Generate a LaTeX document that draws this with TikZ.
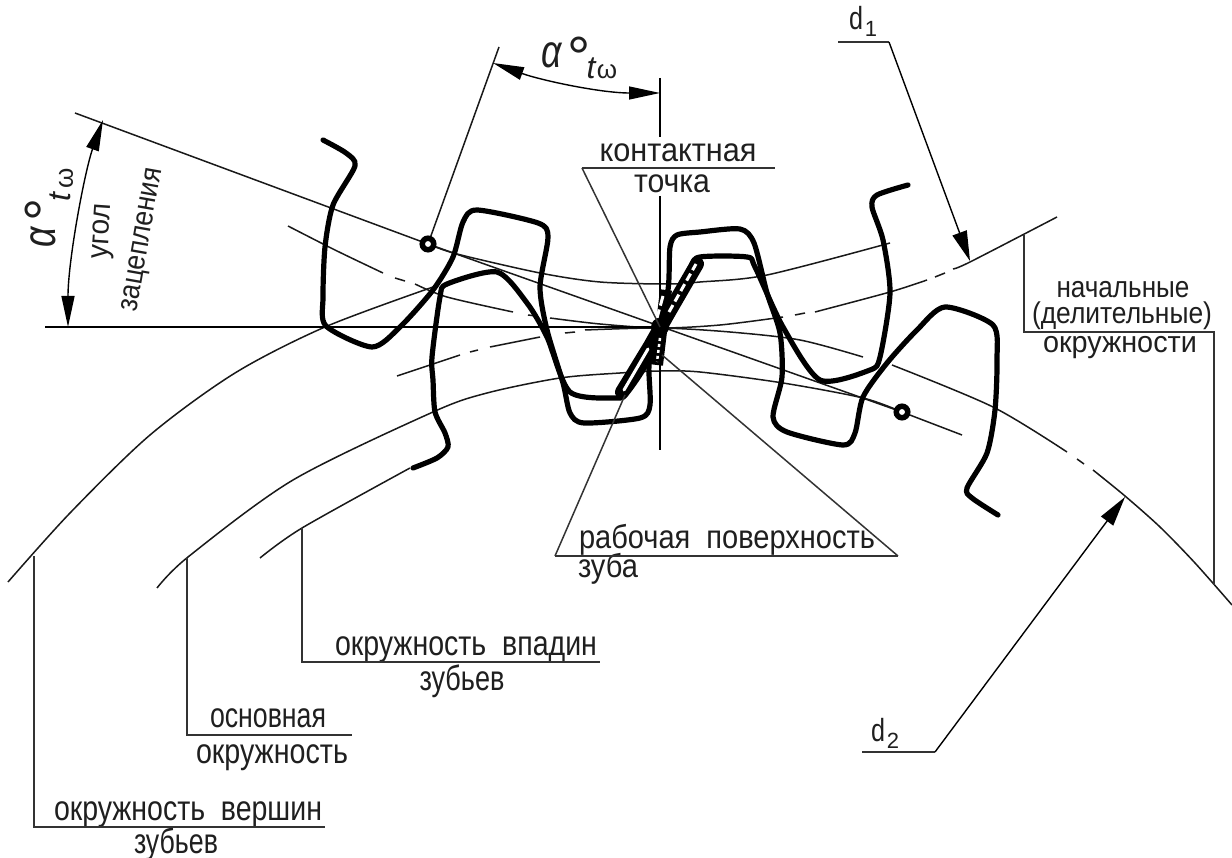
\documentclass[tikz,border=0pt]{standalone}
\usepackage{fontspec}
\usepackage{graphicx}
\usetikzlibrary{arrows.meta}
\setmainfont{Liberation Sans}
\newsavebox\fitbox
\newcommand\fitw[2]{\sbox\fitbox{#2}\pgfmathsetmacro\fitr{#1/\wd\fitbox}\scalebox{\fitr}[1]{\usebox\fitbox}}
\newcommand\lab[6][]{\node[gostlab,#1] (#2) at (#3,#4) {\fitw{#5}{#6}};}
\tikzset{
  gostlab/.style={anchor=base,inner sep=0pt,outer sep=0pt,font=\fontsize{33}{33}\selectfont,text=black!88},
  smalllab/.style={font=\fontsize{30}{30}\selectfont},
  biglab/.style={font=\fontsize{35}{35}\selectfont},
  thinline/.style={line width=1.5pt,draw=black!90},
  leader/.style={line width=1.5pt,draw=black!80,line join=miter},
  toothline/.style={line width=5.2pt,draw=black,line join=round,line cap=round},
  dimarrow/.style={line width=1.4pt,{Stealth[inset=0pt,length=31pt,width=13pt]}-{Stealth[inset=0pt,length=31pt,width=13pt]}},
  headarrow/.style={line width=1.4pt,-{Stealth[inset=0pt,length=30pt,width=15pt]}},
  basemark/.style={circle,draw=black,fill=white,line width=5.5pt,minimum size=11.5pt,inner sep=0pt},
  symb/.style={inner sep=0pt,outer sep=0pt,text=black!88}
}
\begin{document}
\begin{tikzpicture}[x=1pt,y=-1pt]
\useasboundingbox (0,0) rectangle (1232,858);
\fill[white] (0,0) rectangle (1232,858);

% named points
\coordinate (pitch) at (660,327);
\coordinate (axisL) at (45,327);
\coordinate (axisT) at (660,78);
\coordinate (axisT2) at (660,137);
\coordinate (axisT3) at (660,196);
\coordinate (axisB) at (660,450);
\coordinate (loaS) at (75,113);
\coordinate (loaE) at (962,435);
\coordinate (tA) at (428,244);
\coordinate (tB) at (902,412);
\coordinate (ldA) at (34,556);
\coordinate (ldB) at (187,558);
\coordinate (ldC) at (302,528);
\coordinate (ldD) at (1024,235);
\coordinate (ldE) at (1214,585);
\coordinate (flankL) at (625,395);
\coordinate (flankR) at (662,355);
\coordinate (d1tip) at (970,261);
\coordinate (d2tip) at (1125,497);
\coordinate (angTop) at (499,47);

% gear circles
\draw[thinline] plot[smooth] coordinates {(8,582)(70,513)(150,435)(235,373)(325,327)(433,287)};
\draw[thinline] plot[smooth] coordinates {(157,588)(188,557)(293,480)(433,412)(487,393)(560,378)(620,373)(660,371)(700,372)(783,383)(863,398)(902,412)};
\draw[thinline] plot[smooth] coordinates {(260,558)(302,528)(410,468)};
\draw[thinline] plot[smooth] coordinates {(428,244)(457,254)(540,273)(600,282)(667,284)(700,282)(767,275)(890,243)};
% upper pitch circle
\draw[thinline] plot[smooth] coordinates {(288,226)(335,250)(383,273)};
\draw[thinline] (395,278)--(405,281);
\draw[thinline] plot[smooth] coordinates {(415,284)(447,297)(513,312)};
\draw[thinline] (528,315)--(536,316);
\draw[thinline] plot[smooth] coordinates {(550,318)(600,324)(660,328)(720,325)(783,317)};
\draw[thinline] (795,315)--(805,313);
\draw[thinline] plot[smooth] coordinates {(815,312)(890,292)(927,280)};
\draw[thinline] (935,277)--(945,273);
\draw[thinline] plot[smooth] coordinates {(953,269)(970,262)(1057,217)};
% lower pitch circle
\draw[thinline] plot[smooth] coordinates {(397,376)(430,365)(460,355)};
\draw[thinline] (470,352)--(478,350);
\draw[thinline] plot[smooth] coordinates {(490,347)(540,337)};
\draw[thinline] (565,333)--(575,332);
\draw[thinline] plot[smooth] coordinates {(585,330)(660,328)(730,332)(800,340)(863,357)};
\draw[thinline] plot[smooth] coordinates {(892,365)(993,407)(1067,452)};
\draw[thinline] (1077,459)--(1084,464);
\draw[thinline] plot[smooth] coordinates {(1093,470)(1125,496)(1160,527)(1195,563)(1232,605)};

% axes and line of action
\draw[line width=2pt] (axisL) -- (pitch);
\draw[line width=1.8pt] (axisT) -- (axisT2);
\draw[line width=1.8pt] (axisT3) -- (axisB);
\draw[thinline] (loaS) -- (tA) -- (tB) -- (loaE);

% upper gear outline
\draw[toothline] plot[smooth,tension=0.45] coordinates {(323,140)(346,153)(355,166)(333,205)(325,247)(323,297)(326,326)(372,347)(400,327)(433,290)(453,257)(463,222)(477,210)(538,223)(548,237)(540,287)(547,330)(563,383)(570,413)(584,423)(640,418)(650,405)(649,365)(656,335)(668,290)(670,247)(677,235)(700,232)(740,229)(754,243)(767,293)(780,333)(782,377)(773,417)(787,432)(843,445)(855,433)(863,397)(887,363)(917,330)(945,307)(993,325)(997,360)(995,410)(987,453)(967,488)(972,498)(998,515)};
% lower gear outline
\draw[toothline] plot[smooth,tension=0.45] coordinates {(413,468)(437,458)(448,447)(445,433)(435,412)(433,380)(432,357)(440,297)(447,284)(497,272)(527,303)(547,337)(570,392)(617,398)(627,393)(647,363)(667,317)(690,268)(700,257)(747,257)(755,267)(783,327)(820,380)(870,370)(880,357)(890,293)(883,240)(872,207)(877,195)(908,185)};

% contact sliver: doubled flanks of the two teeth
\draw[line width=14pt,line cap=round,black] (622,392)--(650,346)--(668,314)--(697,264);
\draw[line width=12pt,black] (666,290)--(657,365);
\draw[white,line width=3pt,line cap=round] (624,390)--(648,349);
\draw[white,line width=3pt,dash pattern=on 8pt off 4pt] (669,312)--(696,264);
\draw[white,line width=3pt,dash pattern=on 10pt off 4pt] (663,296)--(657,318);
\draw[white,line width=2.5pt,dash pattern=on 3pt off 3pt] (660,338)--(657,362);
\fill[black] (660,327) circle (9pt);

% base circle markers
\node[basemark] (markA) at (tA) {};
\node[basemark] (markB) at (tB) {};

% labels
\lab{kont}{678}{162}{157}{контактная}
\lab{toch}{672}{193}{76}{точка}
\lab[smalllab]{nach}{1123}{298}{133}{начальные}
\lab[smalllab]{del}{1122}{324}{180}{(делительные)}
\lab[smalllab]{okr}{1120}{353}{154}{окружности}
\lab{rab}{727}{548}{296}{рабочая\ \ поверхность}
\lab{zuba}{608}{577}{60}{зуба}
\lab[biglab]{vpad}{466}{655}{262}{окружность\ \ впадин}
\lab[biglab]{zub2}{462}{690}{85}{зубьев}
\lab[biglab]{osn}{268}{727}{116}{основная}
\lab[biglab]{okr2}{272}{763}{152}{окружность}
\lab[biglab]{vers}{188}{820}{268}{окружность\ \ вершин}
\lab[biglab]{zub3}{176}{853}{84}{зубьев}
\node[symb,rotate=86,anchor=base,font=\fontsize{30}{30}\selectfont] (ugol) at (109,232) {\fitw{55}{угол}};
\node[symb,rotate=80,anchor=base,font=\fontsize{30}{30}\selectfont] (zac) at (149,241) {\fitw{145}{зацепления}};

% leaders
\draw[leader] (582,168) -- (775,168);
\draw[leader] (582,168) -- (pitch);
\draw[leader] (555,556) -- (898,556);
\draw[leader] (555,556) -- (flankL);
\draw[leader] (898,556) -- (flankR);
\draw[leader] (ldA) -- (34,827) -- (325,827);
\draw[leader] (ldB) -- (187,735) -- (352,735);
\draw[leader] (ldC) -- (302,662) -- (600,662);
\draw[leader] (ldD) -- (1024,332) -- (1214,332) -- (ldE);
\draw[thinline] (markA) -- (angTop);
\draw[leader] (838,42) -- (889,42);
\draw[headarrow] (889,42) -- (d1tip);
\draw[leader] (862,752) -- (935,752);
\draw[headarrow] (935,752) -- (d2tip);

% angle dimensions
\draw[dimarrow] (493,63) .. controls (540,80) and (600,93) .. (660,93);
\draw[dimarrow] (103,120) .. controls (85,170) and (68,260) .. (68,327);

% alpha labels
\node[symb,font=\fontsize{42}{42}\selectfont\itshape] (a1) at (552,55) {\scalebox{0.85}[1.1]{α}};
\node[symb,font=\fontsize{58}{58}\selectfont] (a2) at (579,57) {\makebox[13pt]{°}};
\node[symb,font=\fontsize{32}{32}\selectfont\itshape] (a3) at (591,68) {t};
\node[symb,font=\fontsize{26}{26}\selectfont] (a4) at (607,72) {ω};
\node[symb,rotate=90,font=\fontsize{42}{42}\selectfont\itshape] (b1) at (43,237) {\scalebox{0.85}[1.1]{α}};
\node[symb,rotate=90,font=\fontsize{58}{58}\selectfont] (b2) at (45,210) {\makebox[13pt]{°}};
\node[symb,rotate=90,font=\fontsize{32}{32}\selectfont\itshape] (b3) at (60,197) {t};
\node[symb,rotate=90,font=\fontsize{26}{26}\selectfont] (b4) at (66,178) {ω};

% d labels
\node[gostlab,font=\fontsize{32}{32}\selectfont] (d1) at (856,30) {\fitw{14}{d}};
\node[gostlab,font=\fontsize{22}{22}\selectfont] (d1s) at (871,37) {1};
\node[gostlab,font=\fontsize{32}{32}\selectfont] (d2) at (878,741) {\fitw{14}{d}};
\node[gostlab,font=\fontsize{22}{22}\selectfont] (d2s) at (893,748) {2};
\end{tikzpicture}
\end{document}
